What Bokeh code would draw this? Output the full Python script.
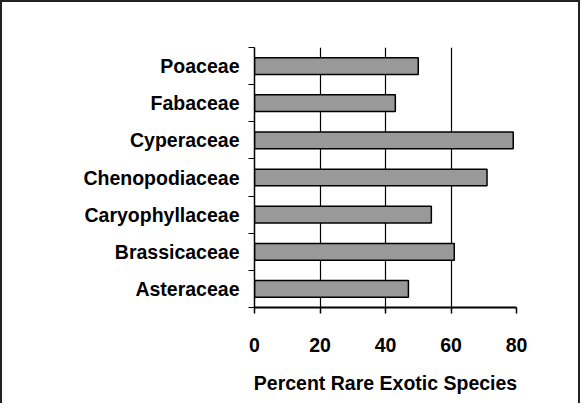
from bokeh.plotting import figure
from bokeh.models import Range1d, FixedTicker, ColumnDataSource
from bokeh.embed import file_html
from bokeh.resources import INLINE

# Data (bottom to top)
families = ["Asteraceae", "Brassicaceae", "Caryophyllaceae", "Chenopodiaceae",
            "Cyperaceae", "Fabaceae", "Poaceae"]
percent_rare_exotic = [47, 61, 54, 71, 79, 43, 50]
x_ticks = [0, 20, 40, 60, 80]
x_title = "Percent Rare Exotic Species"

FONT = "Liberation Sans"

n = len(families)
centres = [i + 0.5 for i in range(n)]
bounds = list(range(n + 1))
source = ColumnDataSource(dict(family=families, pos=centres, value=percent_rare_exotic))

p = figure(width=580, height=403, output_backend="svg", toolbar_location=None,
           y_range=Range1d(0, n), x_range=Range1d(0, 80),
           min_border_left=252, min_border_right=66, min_border_top=45,
           min_border_bottom=98)
p.outline_line_color = None
p.background_fill_color = "white"
p.border_fill_color = "white"
# outer chart border (its bottom edge lies outside the picture)
p.styles = {"border-left": "2px solid #222222", "border-top": "2px solid #222222",
            "border-right": "2px solid #222222"}

p.hbar(y="pos", right="value", left=0, height=0.45, source=source,
       fill_color="#999999", line_color="black", line_width=1.5)

# x axis
xa = p.xaxis[0]
xa.ticker = FixedTicker(ticks=x_ticks, minor_ticks=[])
xa.axis_line_width = 2
xa.axis_line_color = "black"
xa.major_tick_in = 0
xa.major_tick_out = 6
xa.major_tick_line_width = 1.5
xa.minor_tick_line_color = None
xa.major_label_text_font = FONT
xa.major_label_text_font_style = "bold"
xa.major_label_text_font_size = "19.5px"
xa.major_label_text_color = "black"
xa.major_label_standoff = 24
xa.axis_label = x_title
xa.axis_label_text_font = FONT
xa.axis_label_text_font_style = "bold"
xa.axis_label_text_font_size = "19.5px"
xa.axis_label_text_color = "black"
xa.axis_label_standoff = 17

p.xgrid.ticker = FixedTicker(ticks=x_ticks)
p.xgrid.grid_line_color = "black"
p.xgrid.grid_line_width = 1.2
p.ygrid.grid_line_color = None

# y axis: labels at category centres, ticks at category boundaries
ya = p.yaxis[0]
ya.ticker = FixedTicker(ticks=centres, minor_ticks=bounds)
ya.major_label_overrides = {c: f for c, f in zip(centres, families)}
ya.axis_line_color = "black"
ya.axis_line_width = 1.5
ya.major_tick_in = 0
ya.major_tick_out = 0
ya.minor_tick_in = 0
ya.minor_tick_out = 6
ya.minor_tick_line_color = "black"
ya.minor_tick_line_width = 1.2
ya.major_label_text_font = FONT
ya.major_label_text_font_style = "bold"
ya.major_label_text_font_size = "19.5px"
ya.major_label_text_color = "black"
ya.major_label_standoff = 9

open("out.html", "w").write(file_html(p, INLINE))
